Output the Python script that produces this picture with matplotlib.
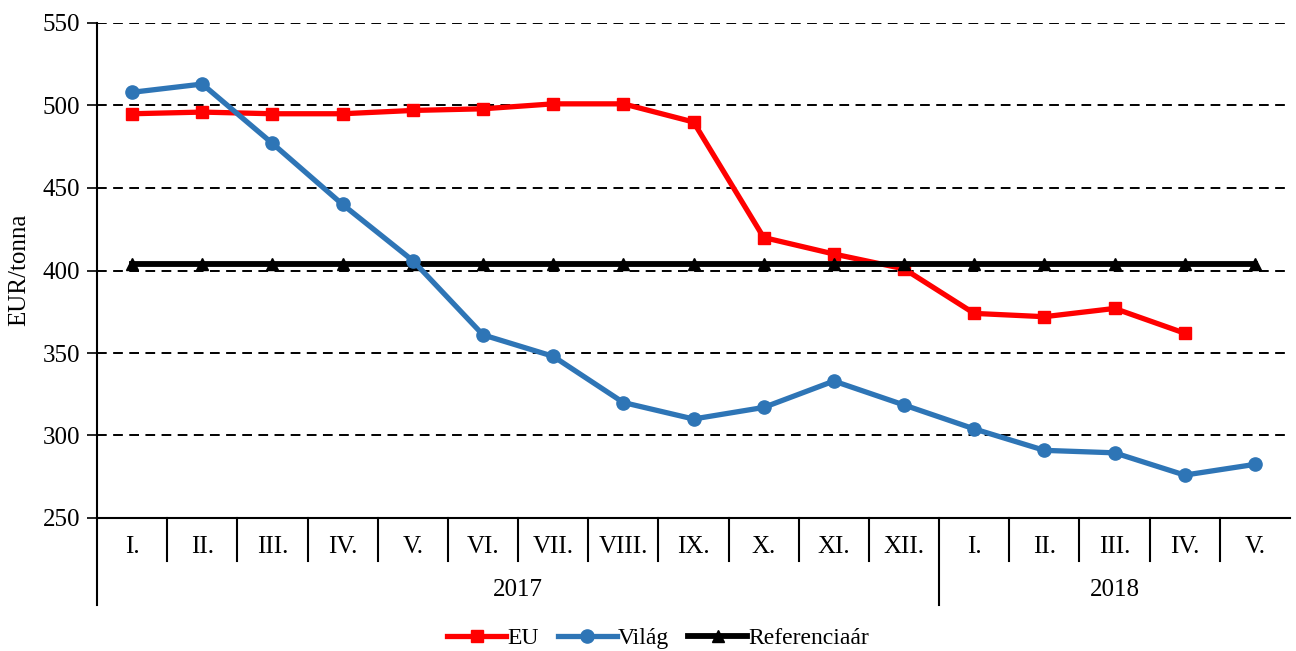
import matplotlib
matplotlib.use("Agg")
import matplotlib.pyplot as plt
import matplotlib.transforms as mtransforms
from matplotlib.lines import Line2D

months = ["I.", "II.", "III.", "IV.", "V.", "VI.", "VII.", "VIII.", "IX.", "X.", "XI.", "XII.",
          "I.", "II.", "III.", "IV.", "V."]
years = ["2017", "2018"]
year_counts = [12, 5]

eu = [495, 496, 495, 495, 497, 498, 501, 501, 490, 420, 410, 401, 374, 372, 377, 362]
vilag = [508, 513, 477, 440, 406, 361, 348, 320, 310, 317, 333, 318.5, 304, 291, 289.5, 276, 282.5]
ref = [404] * 17

plt.rcParams['font.family'] = ['Liberation Serif', 'DejaVu Serif']
FS = 18

W, H = 1296, 651
fig = plt.figure(figsize=(W / 100, H / 100), dpi=100)
ax = fig.add_axes([97 / W, (H - 518) / H, (1290 - 97) / W, (518 - 23) / H])

x_eu = list(range(len(eu)))
x_all = list(range(len(months)))

ax.plot(x_eu, eu, color="#ff0000", lw=3.8, marker="s", ms=9, label="EU", zorder=3)
ax.plot(x_all, ref, color="black", lw=4.2, marker="^", ms=8.5, label="Referenciaár", zorder=4)
ax.plot(x_all, vilag, color="#2e75b6", lw=3.8, marker="o", ms=9.5, label="Világ", zorder=5)

ax.set_xlim(-0.5, len(months) - 0.5)
ax.set_ylim(250, 550)
ax.set_yticks(range(250, 551, 50))
ax.tick_params(axis="y", labelsize=FS, length=7, width=1.2, direction="out", pad=5)
for yv in range(300, 551, 50):
    ax.axhline(yv, color="black", lw=1.4, ls=(0, (5, 3.3)), zorder=1)

for s in ["top", "right"]:
    ax.spines[s].set_visible(False)
ax.spines["left"].set_linewidth(1.5)
ax.spines["bottom"].set_linewidth(1.5)

ax.set_xticks([])
trans = mtransforms.blended_transform_factory(ax.transData, ax.transAxes)
h = 518 - 23
sep_short = -(561 - 518) / h
sep_long = -(605 - 518) / h
lab_y = -(547 - 518) / h
year_y = -(590 - 518) / h

for i, m in enumerate(months):
    ax.text(i, lab_y, m, transform=trans, ha="center", va="center", fontsize=FS)

ax.add_line(Line2D([-0.5, -0.5], [0, sep_long], transform=trans, color="black", lw=1.5, clip_on=False))
boundaries = []
acc = 0
for c in year_counts[:-1]:
    acc += c
    boundaries.append(acc - 0.5)
for k in range(len(months) - 1):
    xb = k + 0.5
    yb = sep_long if xb in boundaries else sep_short
    ax.add_line(Line2D([xb, xb], [0, yb], transform=trans, color="black", lw=1.5, clip_on=False))

start = -0.5
for yr, c in zip(years, year_counts):
    end = start + c
    ax.text((start + end) / 2, year_y, yr, transform=trans, ha="center", va="center", fontsize=FS)
    start = end

fig.text(19 / W, 1 - 270 / H, "EUR/tonna", rotation=90, ha="center", va="center", fontsize=FS)

handles, labels = ax.get_legend_handles_labels()
order = [0, 2, 1]
fig.legend([handles[i] for i in order], [labels[i] for i in order],
           loc="center", bbox_to_anchor=(658 / W, 1 - 638 / H), ncol=3, frameon=False,
           fontsize=17, handlelength=2.5, handletextpad=0.05, columnspacing=0.8)

fig.savefig("out.png", dpi=100)
